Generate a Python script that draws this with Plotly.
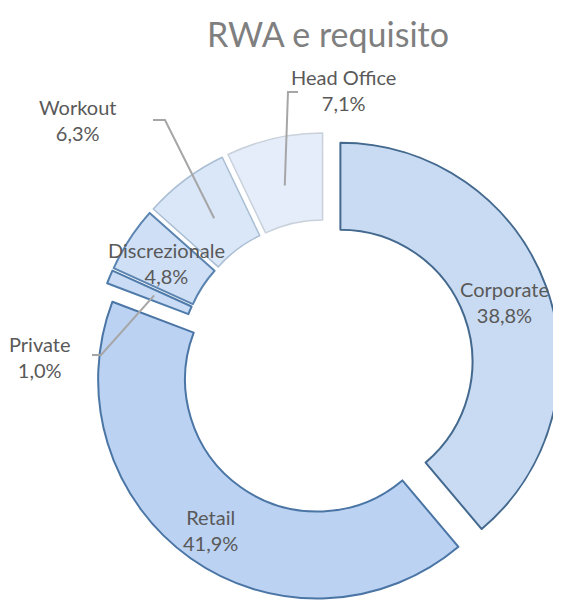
import plotly.graph_objects as go
import numpy as np

# slices, clockwise from 12 o'clock
labels = ["Corporate", "Retail", "Private", "Discrezionale", "Workout", "Head Office"]
values = [38.8, 41.9, 1.0, 4.8, 6.3, 7.1]
pct_text = ["38,8%", "41,9%", "1,0%", "4,8%", "6,3%", "7,1%"]

fill_colors = ["#c9dbf2", "#bbd2f2", "#cadcf5", "#cfe0f6", "#d9e7f8", "#e4edf9"]
line_colors = ["#44698f", "#4a75a5", "#4f7bab", "#5b84b1", "#a9bdd3", "#c9d1db"]

# the page body has an 8px margin, so the figure is drawn 8px in from the window corner
OFF = 8
W, H = 561 - OFF, 608 - OFF
pull = 0.07
hole = 0.603

# wanted pie centre and radius, in window pixels
cx, cy, r = 326, 367, 219
half = r * (1 + pull)
dom_x = [max(0, (cx - OFF - half) / W), min(1, (cx - OFF + half) / W)]
dom_y = [max(0, 1 - (cy - OFF + half) / H), min(1, 1 - (cy - OFF - half) / H)]

vals = np.array(values)
mid_deg = (np.cumsum(vals) - vals / 2) / vals.sum() * 360


def slice_point(i, frac):
    a = np.radians(mid_deg[i])
    rho = frac * r + pull * r
    return cx + rho * np.sin(a), cy - rho * np.cos(a)


def px(x, y):
    return (x - OFF) / W, 1 - (y - OFF) / H


fig = go.Figure()
fig.add_trace(go.Pie(
    labels=labels, values=values, sort=False, direction="clockwise",
    hole=hole, pull=pull, textinfo="none", showlegend=False,
    domain=dict(x=dom_x, y=dom_y),
    marker=dict(colors=fill_colors, line=dict(color=line_colors, width=[2, 2, 2, 2, 1.5, 1.5])),
))

font = dict(family="Lato", size=20, color="#595959")
label_frac = {"Corporate": 0.80, "Retail": 0.84, "Discrezionale": 0.80}
# outside labels: text centre, elbow, end of the leader line
outside = {
    "Head Office": ((343, 90), (288, 92), (298, 92)),
    "Workout": ((77, 120), (165, 120), (153, 120)),
    "Private": ((40, 357), (101, 355), (92, 355)),
}

annotations = []
shapes = []
for i, lab in enumerate(labels):
    txt = f"{lab}<br>{pct_text[i]}"
    if lab in label_frac:
        x, y = slice_point(i, label_frac[lab])
    else:
        (x, y), elbow, end = outside[lab]
        tx, ty = slice_point(i, 0.78)
        pts = [px(tx, ty), px(*elbow), px(*end)]
        path = "M " + " L ".join(f"{a:.4f},{b:.4f}" for a, b in pts)
        shapes.append(dict(type="path", path=path, xref="paper", yref="paper",
                           line=dict(color="#a6a6a6", width=2)))
    ax, ay = px(x, y)
    annotations.append(dict(text=txt, x=ax, y=ay, xref="paper", yref="paper",
                            showarrow=False, font=font, align="center",
                            xanchor="center", yanchor="middle"))

tx, ty = px(328, 35)
fig.update_layout(
    width=W, height=H,
    margin=dict(l=0, r=0, t=0, b=0),
    paper_bgcolor="white", plot_bgcolor="white",
    title=dict(text="RWA e requisito", x=tx, y=ty, xanchor="center", yanchor="middle",
               font=dict(family="Lato", size=34, color="#7f7f7f")),
    annotations=annotations,
    shapes=shapes,
)

fig.write_html("out.html")
